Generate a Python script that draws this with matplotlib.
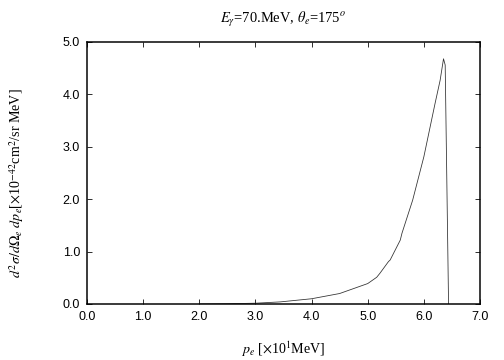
import numpy as np
import matplotlib
matplotlib.use('Agg')
import matplotlib.pyplot as plt

plt.rcParams['mathtext.fontset'] = 'stix'

# curve (x in 10 MeV, y in 1e-42 cm^2/sr MeV)
p_e = [2.0, 2.5, 3.0, 3.44, 4.0, 4.5, 5.0, 5.16, 5.22, 5.37, 5.40, 5.58, 5.61,
       5.80, 6.0, 6.20, 6.29, 6.35, 6.38, 6.44]
xsec = [0.0, 0.005, 0.015, 0.04, 0.10, 0.20, 0.39, 0.51, 0.59, 0.81, 0.84, 1.22,
        1.35, 1.98, 2.81, 3.83, 4.27, 4.68, 4.56, 0.0]

xticks = [0.0, 1.0, 2.0, 3.0, 4.0, 5.0, 6.0, 7.0]
yticks = [0.0, 1.0, 2.0, 3.0, 4.0, 5.0]

fig = plt.figure(figsize=(7, 5), dpi=72)
ax = fig.add_axes([87/504, 1-304/360, (480-87)/504, (304-42)/360])
ax.plot(p_e, xsec, color='#333333', lw=0.8)
ax.set_xlim(0, 7)
ax.set_ylim(0, 5)
ax.set_xticks(xticks)
ax.set_yticks(yticks)
ax.set_xticklabels(['%.1f' % t for t in xticks], family='Liberation Sans', fontsize=12.5)
ax.set_yticklabels(['%.1f' % t for t in yticks], family='Liberation Sans', fontsize=12.5)
ax.tick_params(direction='in', top=True, right=True, length=5, width=0.8, pad=7)
for s in ax.spines.values():
    s.set_linewidth(1.5)

ax.set_title(r'$E_\gamma$=70.MeV, $\theta_e$=175$^o$', family='Liberation Serif',
             fontsize=14.5, pad=19)
ax.set_xlabel(r'$p_e$ [$\times$10$^1$MeV]', family='Liberation Serif',
              fontsize=14)
ax.xaxis.set_label_coords(0.5, -0.135)
ax.set_ylabel(r'$d^2\sigma/d\Omega_e\ dp_e$[$\times$10$^{-42}$cm$^2$/sr MeV]',
              family='Liberation Serif', fontsize=14)
ax.yaxis.set_label_coords(-0.155, 0.46)

fig.savefig('out.png', dpi=72)
